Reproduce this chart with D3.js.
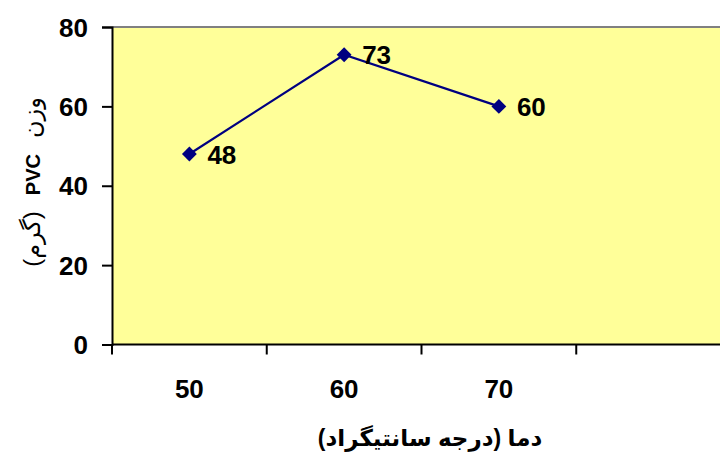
<!DOCTYPE html>
<html><head><meta charset="utf-8">
<script src="https://cdn.jsdelivr.net/npm/d3@7"></script>
<style>body{margin:0;background:#fff}svg{display:block}</style>
</head><body>
<svg id="c" width="720" height="453"></svg>
<script>
const categories = ["50", "60", "70", ""];
const values = [48, 73, 60];
const yTicks = [0, 20, 40, 60, 80];
const xTitle = "دما (درجه سانتیگراد)";
// y title pieces, from bottom to top on screen
const yTitlePieces = ["(گرم)", "PVC", "وزن"];

const svg = d3.select("#c");
const font = "'Liberation Sans', Arial, 'DejaVu Sans', sans-serif";
const pLeft = 112, pRight = 731, pTop = 27, pBottom = 344.5;

const x = d3.scaleBand().domain(categories).range([pLeft, pRight]);
const y = d3.scaleLinear().domain([0, 80]).range([pBottom, pTop]);

svg.append("rect").attr("x", pLeft).attr("y", pTop).attr("width", pRight - pLeft).attr("height", pBottom - pTop)
  .attr("fill", "#FFFF99");
svg.append("line").attr("x1", pLeft).attr("x2", pRight).attr("y1", pTop).attr("y2", pTop)
  .attr("stroke", "#808080").attr("stroke-width", 2);

// y axis
const ya = svg.append("g").attr("transform", `translate(${pLeft},0)`)
  .call(d3.axisLeft(y).tickValues(yTicks).tickSize(10).tickPadding(14).tickFormat(d3.format("d")));
ya.select(".domain").attr("stroke", "#000").attr("stroke-width", 2);
ya.selectAll(".tick line").attr("stroke", "#000").attr("stroke-width", 2);
ya.selectAll(".tick text").attr("font-family", font).attr("font-weight", "bold").attr("font-size", 26).attr("fill", "#000")
  .attr("dy", "0.35em");

// x axis with ticks at band boundaries
const xa = svg.append("g").attr("transform", `translate(0,${pBottom})`);
xa.append("line").attr("x1", pLeft).attr("x2", pRight).attr("stroke", "#000").attr("stroke-width", 2);
xa.selectAll("line.t").data(categories).enter().append("line").attr("class", "t")
  .attr("x1", d => x(d)).attr("x2", d => x(d)).attr("y1", 0).attr("y2", 10)
  .attr("stroke", "#000").attr("stroke-width", 2);
xa.selectAll("text").data(categories).enter().append("text")
  .attr("x", d => x(d) + x.bandwidth() / 2).attr("y", 53)
  .attr("text-anchor", "middle").attr("font-family", font).attr("font-weight", "bold").attr("font-size", 26)
  .text(d => d);

// line
const pts = values.map((v, i) => [x(categories[i]) + x.bandwidth() / 2, y(v)]);
svg.append("path").attr("d", d3.line()(pts)).attr("fill", "none").attr("stroke", "#000080").attr("stroke-width", 2.2);
svg.selectAll("path.m").data(pts).enter().append("path").attr("class", "m")
  .attr("d", d3.symbol(d3.symbolSquare, 110)())
  .attr("transform", d => `translate(${d[0]},${d[1]}) rotate(45)`)
  .attr("fill", "#000080");
svg.selectAll("text.lbl").data(values).enter().append("text").attr("class", "lbl")
  .attr("x", (v, i) => pts[i][0] + 18).attr("y", (v, i) => pts[i][1] + 9.5)
  .attr("font-family", font).attr("font-weight", "bold").attr("font-size", 26).text(v => v);

// x title
svg.append("text").attr("x", 430).attr("y", 446).attr("text-anchor", "middle")
  .attr("font-family", font).attr("font-weight", "bold").attr("font-size", 23).attr("direction", "rtl").text(xTitle);

// y title (rotated, laid out piece by piece)
const yg = svg.append("g").attr("transform", "translate(40,182) rotate(-90)");
const pieces = yTitlePieces.map(t => {
  const isLatin = /^[A-Za-z]+$/.test(t);
  const el = yg.append("text").attr("font-family", font)
    .attr("font-size", isLatin ? 20 : 24).attr("font-weight", isLatin ? "bold" : "normal")
    .attr("text-anchor", "middle").text(t);
  return {el, w: el.node().getComputedTextLength()};
});
const gap = 16;
const total = d3.sum(pieces, p => p.w) + gap * (pieces.length - 1);
let cx = -total / 2;
pieces.forEach(p => {
  p.el.attr("x", cx + p.w / 2);
  cx += p.w + gap;
});
</script>
</body></html>
